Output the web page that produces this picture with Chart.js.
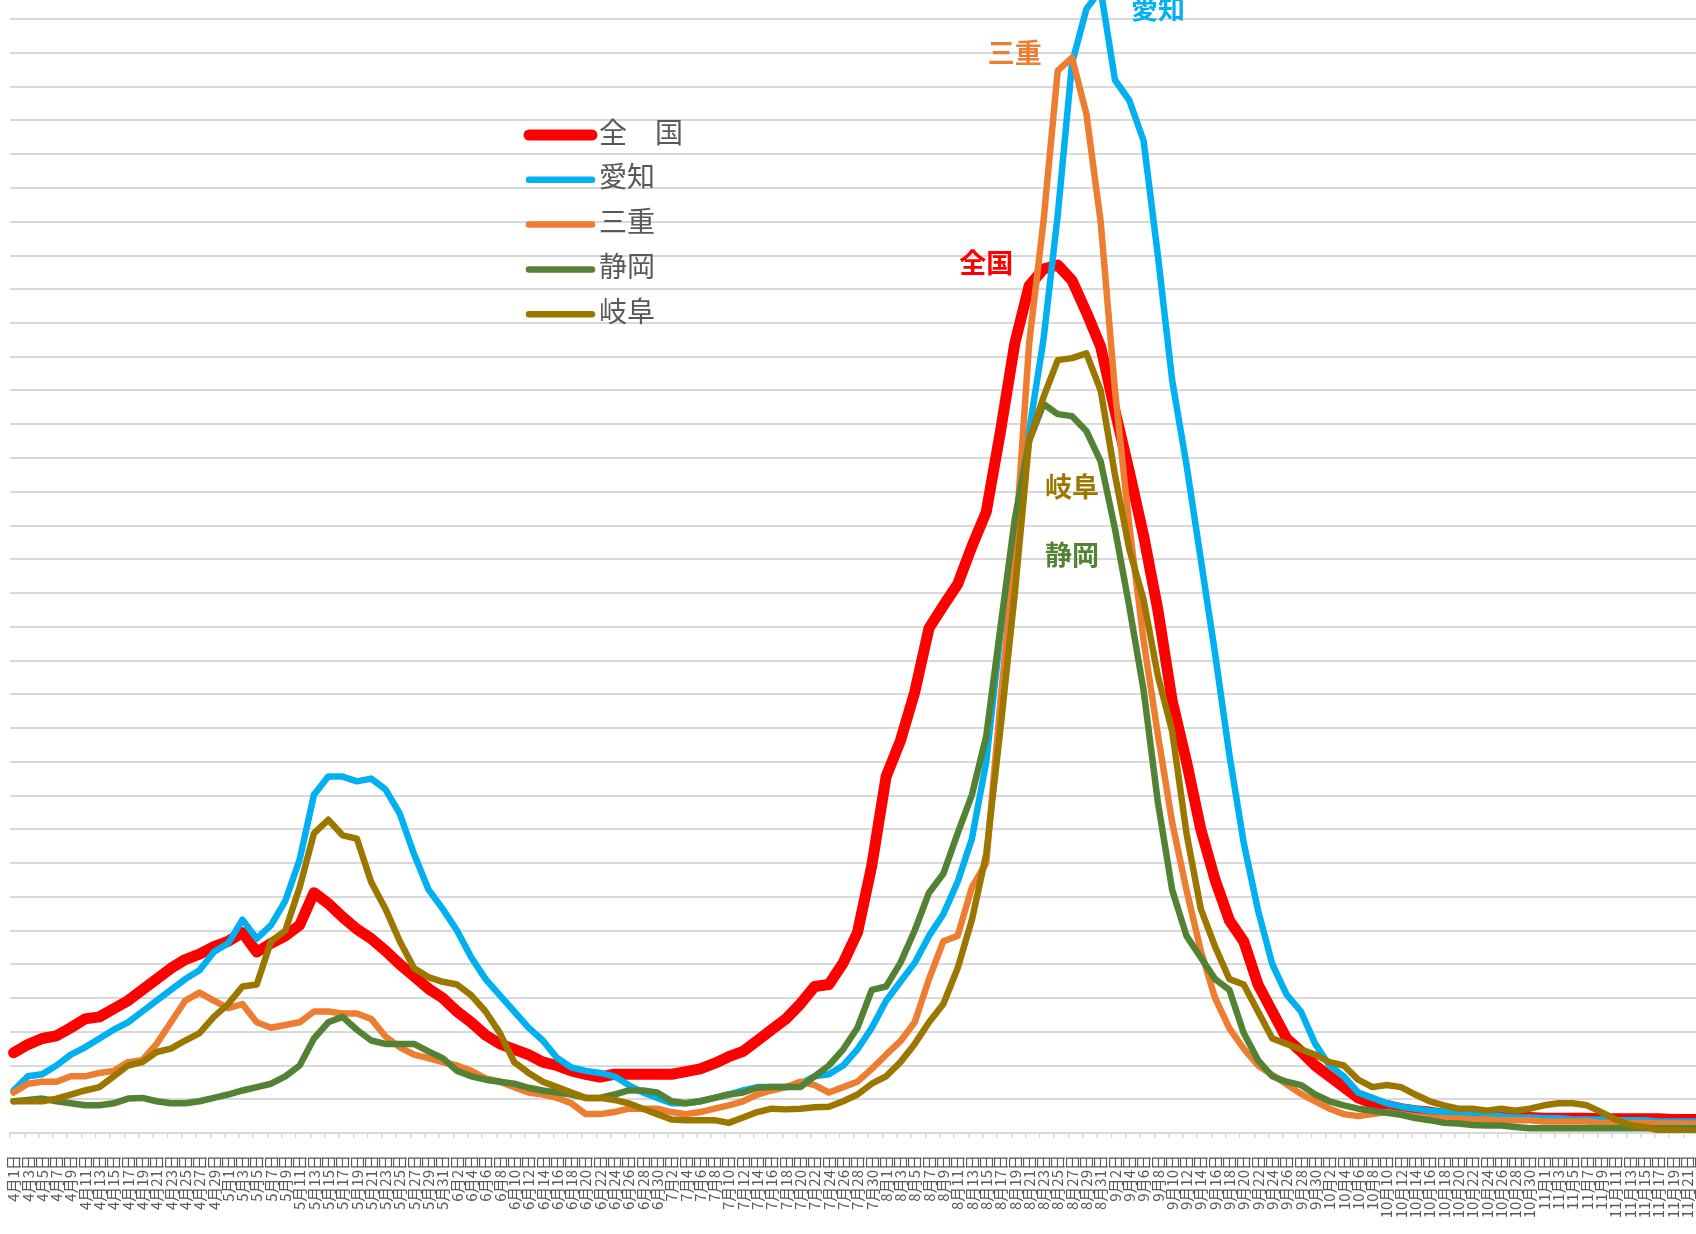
<!DOCTYPE html>
<html lang="ja">
<head>
<meta charset="utf-8">
<title>新規感染者数の推移</title>
<script src="https://cdn.jsdelivr.net/npm/chart.js@4.4.1/dist/chart.umd.min.js"></script>
<style>
  html, body { margin: 0; padding: 0; background: #fff; overflow: hidden; width: 1696px; height: 1234px; }
  #wrap { position: absolute; left: 0; top: -82px; }
</style>
</head>
<body>
<div id="wrap"><canvas id="trendChart" width="1705" height="1316"></canvas></div>
<script>
// === DATA ===
// daily categories 4/1 .. 11/23, values read every second day
const monthLengths = [[4, 30], [5, 31], [6, 30], [7, 31], [8, 31], [9, 30], [10, 31], [11, 23]];
const dayLabels = [];
monthLengths.forEach(([m, n]) => {
  for (let d = 1; d <= n; d++) dayLabels.push(`${m}月${d}日`);
});
const sampleDays = dayLabels.filter((_, i) => i % 2 === 0);

const national = [
  11.9, 13.1, 14.0, 14.4, 15.6, 16.9, 17.2, 18.4, 19.6, 21.2,
  22.8, 24.4, 25.7, 26.5, 27.6, 28.4, 29.7, 26.8, 28.1, 29.2,
  30.8, 35.6, 34.0, 32.0, 30.2, 28.8, 27.0, 25.0, 23.2, 21.4,
  20.0, 18.0, 16.4, 14.5, 13.2, 12.4, 11.6, 10.5, 10.0, 9.2,
  8.7, 8.3, 8.7, 8.7, 8.7, 8.7, 8.7, 9.1, 9.5, 10.3,
  11.3, 12.1, 13.7, 15.3, 16.9, 19.1, 21.7, 22.0, 25.2, 29.7,
  39.6, 52.8, 58.1, 65.3, 74.8, 78.1, 81.3, 86.9, 92.0, 104.0,
  117.0, 125.5, 128.0, 128.6, 126.3, 121.6, 116.5, 107.0, 98.0, 88.5,
  77.5, 64.0, 55.0, 45.0, 37.5, 31.5, 28.4, 22.0, 18.0, 14.0,
  12.1, 10.0, 8.4, 6.8, 5.2, 4.4, 4.1, 3.6, 3.3, 3.1,
  2.8, 2.7, 2.6, 2.5, 2.4, 2.3, 2.3, 2.2, 2.2, 2.2,
  2.2, 2.1, 2.1, 2.1, 2.1, 2.1, 2.0, 2.0, 2.0
];
const aichi = [
  6.3, 8.4, 8.7, 10.0, 11.6, 12.7, 14.0, 15.3, 16.4, 18.0,
  19.6, 21.2, 22.8, 24.1, 26.8, 28.1, 31.6, 28.8, 30.8, 34.4,
  40.5, 50.1, 52.8, 52.8, 52.1, 52.5, 50.9, 47.3, 41.3, 36.1,
  33.2, 30.0, 26.0, 22.8, 20.4, 18.0, 15.6, 13.7, 11.1, 9.7,
  9.2, 8.9, 8.4, 7.1, 6.0, 5.2, 4.4, 4.4, 4.7, 5.2,
  5.7, 6.3, 6.8, 6.8, 6.8, 7.3, 8.4, 8.7, 10.0, 12.4,
  15.6, 19.6, 22.4, 25.2, 29.2, 32.4, 37.2, 43.6, 55.0, 74.0,
  87.0, 104.0, 117.5, 136.0, 158.5, 166.5, 169.4, 156.0, 153.0, 147.0,
  130.0, 111.5, 99.0, 85.0, 71.0, 56.0, 43.0, 33.0, 25.0, 20.5,
  18.0, 13.2, 10.0, 8.4, 6.0, 5.2, 4.4, 3.9, 3.6, 3.3,
  3.1, 3.0, 2.8, 2.7, 2.5, 2.3, 2.3, 2.2, 2.2, 2.0,
  2.0, 2.0, 1.9, 1.9, 1.9, 1.7, 1.7, 1.7, 1.7
];
const mie = [
  6.0, 7.3, 7.6, 7.6, 8.4, 8.4, 8.9, 9.2, 10.5, 10.8,
  13.2, 16.4, 19.6, 20.8, 19.6, 18.5, 19.1, 16.4, 15.6, 16.0,
  16.4, 18.0, 18.0, 17.7, 17.7, 16.9, 14.3, 12.7, 11.6, 11.1,
  10.5, 10.0, 9.2, 8.1, 7.6, 6.8, 6.0, 5.7, 5.2, 4.4,
  2.8, 2.8, 3.1, 3.6, 3.6, 3.6, 3.1, 2.8, 3.1, 3.6,
  4.1, 4.7, 5.7, 6.3, 6.8, 7.6, 7.1, 6.0, 6.8, 7.6,
  9.5, 11.6, 13.6, 16.4, 22.8, 28.4, 29.2, 36.4, 40.0, 64.0,
  86.0, 117.0, 135.0, 157.4, 159.3, 151.0, 135.0, 110.0, 90.0, 73.0,
  59.0, 46.0, 36.0, 27.0, 20.0, 15.5, 12.5, 10.0, 8.6, 7.2,
  5.8, 4.7, 3.6, 2.8, 2.5, 2.8, 3.1, 2.8, 2.5, 2.3,
  2.2, 2.2, 2.0, 2.0, 1.9, 1.9, 1.9, 1.7, 1.7, 1.7,
  1.7, 1.5, 1.5, 1.5, 1.5, 1.4, 1.4, 1.4, 1.4
];
const shizuoka = [
  4.7, 4.9, 5.1, 4.7, 4.4, 4.1, 4.1, 4.4, 5.1, 5.2,
  4.7, 4.4, 4.4, 4.7, 5.2, 5.7, 6.3, 6.8, 7.3, 8.4,
  10.0, 14.0, 16.4, 17.2, 15.3, 13.7, 13.2, 13.2, 13.2, 12.1,
  11.1, 9.2, 8.4, 7.9, 7.6, 7.3, 6.7, 6.3, 6.0, 5.7,
  5.2, 5.2, 5.7, 6.3, 6.3, 6.0, 4.7, 4.4, 4.7, 5.2,
  5.7, 6.0, 6.7, 6.8, 6.8, 6.8, 8.4, 10.0, 12.4, 15.6,
  21.2, 21.7, 25.2, 30.0, 35.6, 38.4, 44.4, 50.1, 58.8, 75.0,
  91.0, 102.5, 108.0, 106.5, 106.2, 104.0, 99.5, 89.5, 78.0, 65.6,
  49.0, 36.0, 29.2, 26.0, 22.8, 21.2, 14.8, 10.8, 8.4, 7.6,
  7.1, 5.7, 4.7, 4.1, 3.6, 3.3, 3.0, 2.7, 2.2, 1.9,
  1.5, 1.4, 1.2, 1.1, 1.1, 0.9, 0.7, 0.7, 0.7, 0.7,
  0.7, 0.7, 0.7, 0.7, 0.7, 0.7, 0.7, 0.7, 0.7
];
const gifu = [
  4.7, 4.7, 4.7, 5.1, 5.7, 6.3, 6.8, 8.4, 10.0, 10.5,
  12.0, 12.5, 13.7, 14.8, 17.2, 19.1, 21.7, 22.0, 28.4, 30.0,
  36.4, 44.4, 46.4, 44.1, 43.6, 37.2, 33.2, 28.4, 24.4, 23.1,
  22.4, 22.0, 20.4, 18.0, 14.8, 10.5, 8.9, 7.6, 6.8, 6.0,
  5.2, 5.2, 4.9, 4.4, 3.6, 2.8, 2.0, 1.9, 1.9, 1.9,
  1.5, 2.3, 3.1, 3.6, 3.5, 3.6, 3.8, 3.9, 4.7, 5.7,
  7.3, 8.4, 10.5, 13.2, 16.4, 19.1, 24.4, 31.6, 41.3, 60.0,
  80.0, 102.6, 109.0, 114.5, 114.8, 115.5, 110.0, 97.5, 86.5, 79.0,
  67.7, 59.5, 44.4, 33.2, 27.6, 22.8, 22.0, 18.0, 14.0, 13.2,
  12.4, 11.6, 10.5, 10.0, 7.9, 6.8, 7.1, 6.8, 5.7, 4.7,
  4.1, 3.6, 3.6, 3.3, 3.6, 3.3, 3.6, 4.1, 4.4, 4.4,
  4.1, 3.1, 2.0, 1.2, 0.9, 0.4, 0.4, 0.3, 0.3
];

const seriesNames = ["全　国", "愛知", "三重", "静岡", "岐阜"];
const seriesValues = [national, aichi, mie, shizuoka, gifu];
const seriesColors = ["#FF0000", "#00B0F0", "#ED7D31", "#548235", "#9C7700"];

// labels written next to the peaks
const calloutTexts = ["全国", "三重", "愛知", "岐阜", "静岡"];
const calloutDays = ["8月15日", "8月19日", "9月8日", "8月27日", "8月27日"];
const calloutValues = [129, 160, 166.5, 95.7, 85.6];
const calloutColors = ["#FF0000", "#ED7D31", "#00B0F0", "#9C7700", "#548235"];

// === PLUGINS ===
const insideLegend = {
  id: "insideLegend",
  afterDraw(chart) {
    const { ctx } = chart;
    ctx.save();
    ctx.font = '28px "Noto Sans CJK JP"';
    ctx.textBaseline = "middle";
    ctx.lineCap = "round";
    chart.data.datasets.forEach((ds, i) => {
      const y = 217 + i * 44.8;
      ctx.strokeStyle = ds.borderColor;
      ctx.lineWidth = ds.borderWidth;
      ctx.beginPath();
      ctx.moveTo(529, y);
      ctx.lineTo(592, y);
      ctx.stroke();
      ctx.fillStyle = "#595959";
      ctx.fillText(ds.label, 599, y - 3);
    });
    ctx.restore();
  }
};

const peakCallouts = {
  id: "peakCallouts",
  afterDatasetsDraw(chart) {
    const { ctx, scales: { x, y } } = chart;
    ctx.save();
    ctx.font = 'bold 27px "Noto Sans CJK JP"';
    ctx.textAlign = "center";
    ctx.textBaseline = "middle";
    calloutTexts.forEach((text, i) => {
      ctx.fillStyle = calloutColors[i];
      ctx.fillText(text, x.getPixelForValue(dayLabels.indexOf(calloutDays[i])), y.getPixelForValue(calloutValues[i]));
    });
    ctx.restore();
  }
};

// === CHART ===
const datasets = seriesValues.map((values, i) => ({
  label: seriesNames[i],
  data: values.map((v, k) => ({ x: sampleDays[k], y: v })),
  borderColor: seriesColors[i],
  backgroundColor: seriesColors[i],
  borderWidth: i === 0 ? 11 : 6.5,
  borderJoinStyle: "round",
  borderCapStyle: "round",
  pointRadius: 0,
  tension: 0,
  order: seriesValues.length - i
}));

new Chart(document.getElementById("trendChart"), {
  type: "line",
  data: { labels: dayLabels, datasets },
  options: {
    responsive: false,
    animation: false,
    devicePixelRatio: 1,
    layout: { padding: 0 },
    plugins: {
      legend: { display: false },
      tooltip: { enabled: false }
    },
    scales: {
      x: {
        type: "category",
        offset: true,
        grid: {
          offset: true,
          drawOnChartArea: false,
          drawTicks: true,
          tickLength: 5,
          lineWidth: 1.5,
          color: ctx => ctx.index % 2 === 0 ? "#d9d9d9" : "rgba(0,0,0,0)"
        },
        border: { display: true, color: "#d9d9d9", width: 2 },
        ticks: {
          autoSkip: false,
          minRotation: 90,
          maxRotation: 90,
          padding: 17,
          color: "#595959",
          font: { family: '"Noto Sans CJK JP"', size: 15 },
          callback: (val, index) => index % 2 === 0 ? dayLabels[index] : ""
        },
        afterFit: scale => {
          scale.height = 101;
          scale.paddingLeft = 0;
          scale.paddingRight = 0;
        }
      },
      y: {
        min: 0,
        max: 180,
        ticks: { display: false, stepSize: 5 },
        grid: { color: "#d9d9d9", lineWidth: 2, drawTicks: false },
        border: { display: false },
        afterFit: scale => { scale.width = 10; }
      }
    }
  },
  plugins: [peakCallouts, insideLegend]
});
</script>
</body>
</html>
